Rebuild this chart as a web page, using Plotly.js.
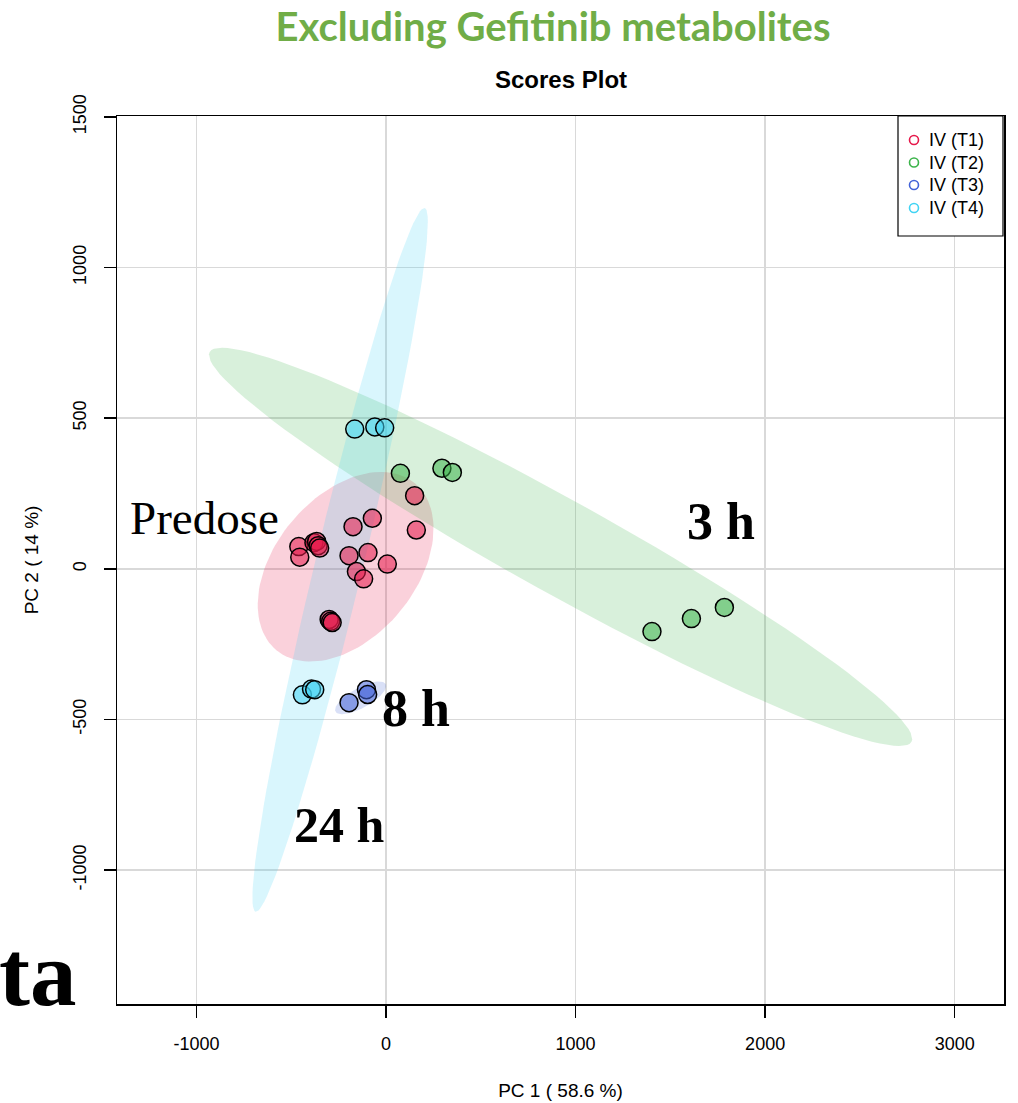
<!DOCTYPE html>
<html><head><meta charset="utf-8">
<script src="https://cdn.plot.ly/plotly-3.0.1.min.js"></script>
<style>html,body{margin:0;padding:0;background:#fff}</style>
</head><body><div id="chart" style="width:1018px;height:1103px"></div>
<script>
// ---- data ----
const groups = ["IV (T1)", "IV (T2)", "IV (T3)", "IV (T4)"];
const groupColors = ["#E6194B", "#3CB44B", "#4363D8", "#42D4F4"];

const t1X = [151, 160, -72, -174, -95, -195, 7, -156, -118, -460, -455, -380, -366, -358, -350, -300, -292, -284];
const t1Y = [243, 129, 168, 140, 54, 44, 16, -9, -33, 74, 39, 87, 91, 77, 69, -168, -174, -178];
const t2X = [76, 295, 350, 1403, 1611, 1785];
const t2Y = [317, 334, 320, -208, -165, -128];
const t3X = [-195, -103, -97];
const t3Y = [-444, -401, -417];
const t4X = [-165, -59, -7, -441, -393, -376];
const t4Y = [464, 471, 468, -418, -399, -401];

// 95% confidence ellipses: centre and two conjugate semi-diameters (data units)
const ellCx = [-213, 921, -134, -242];
const ellCy = [7, 73, -428, 30];
const ellUx = [365, 1851, 132, 446];
const ellUy = [277, -647, 46, 1168];
const ellVx = [286, -120, 26, 123];
const ellVy = [-149, -136, -29, -19];

const xTicks = [-1000, 0, 1000, 2000, 3000];
const yTicks = [-1000, -500, 0, 500, 1000, 1500];

const seriesX = [t1X, t2X, t3X, t4X];
const seriesY = [t1Y, t2Y, t3Y, t4Y];

function rgba(hex, a) {
  const n = parseInt(hex.slice(1), 16);
  return `rgba(${(n >> 16) & 255},${(n >> 8) & 255},${n & 255},${a})`;
}

const traces = [];
// ellipses
for (let g = 0; g < 4; g++) {
  const ex = [], ey = [];
  for (let i = 0; i <= 120; i++) {
    const t = 2 * Math.PI * i / 120;
    ex.push(ellCx[g] + ellUx[g] * Math.cos(t) + ellVx[g] * Math.sin(t));
    ey.push(ellCy[g] + ellUy[g] * Math.cos(t) + ellVy[g] * Math.sin(t));
  }
  traces.push({x: ex, y: ey, type: 'scatter', mode: 'lines', fill: 'toself',
    fillcolor: rgba(groupColors[g], 0.2), line: {width: 0, color: 'rgba(0,0,0,0)'},
    hoverinfo: 'skip', showlegend: false});
}
// points
for (let g = 0; g < 4; g++) {
  traces.push({x: seriesX[g], y: seriesY[g], type: 'scatter', mode: 'markers', name: groups[g],
    marker: {size: 18, color: rgba(groupColors[g], 0.55), line: {color: '#000', width: 1.5}},
    showlegend: false});
}

const L = 117, T = 116, W = 887, H = 888;
const px = v => (v - L) / W;
const py = v => (T + H - v) / H;

// legend box drawn R-style (open circles, tight spacing)
const legLeft = 898, legRight = 1003, legTop = 116, legBottom = 236;
const legRows = [140, 162.5, 185, 208];
const shapes = [{type: 'rect', xref: 'paper', yref: 'paper', x0: px(legLeft), x1: px(legRight),
  y0: py(legBottom), y1: py(legTop), line: {color: '#000', width: 1.2}, fillcolor: '#fff', layer: 'above'}];
const legendText = [];
groups.forEach((g, i) => {
  shapes.push({type: 'circle', xref: 'paper', yref: 'paper', xsizemode: 'pixel', ysizemode: 'pixel',
    xanchor: px(914), yanchor: py(legRows[i]), x0: -4.5, x1: 4.5, y0: -4.5, y1: 4.5,
    line: {color: groupColors[i], width: 1.6}, fillcolor: 'rgba(0,0,0,0)', layer: 'above'});
  legendText.push({text: g, xref: 'paper', yref: 'paper', x: px(927), y: py(legRows[i]),
    xanchor: 'left', yanchor: 'middle', showarrow: false, font: {size: 18, color: '#000'}});
});

const serif = 'Liberation Serif, Times New Roman, serif';
const layout = {
  width: 1018, height: 1103,
  margin: {l: L, r: 1018 - L - W, t: T, b: 1103 - T - H},
  paper_bgcolor: '#fff', plot_bgcolor: '#fff',
  font: {family: 'Liberation Sans, Arial, sans-serif', color: '#000'},
  showlegend: false,
  title: {text: 'Excluding Gefitinib metabolites', xref: 'paper', x: px(553), xanchor: 'center',
    yref: 'container', y: 1 - 27 / 1103, yanchor: 'middle',
    font: {family: 'Lato, Open Sans, sans-serif', size: 40, weight: 'bold', color: '#70AD47'}},
  xaxis: {range: [-1419, 3260], tickvals: xTicks, ticktext: xTicks.map(String),
    showgrid: true, gridcolor: '#d9d9d9', gridwidth: 1.5, zeroline: false,
    showline: true, mirror: true, linecolor: '#000', linewidth: 1.5,
    ticks: 'outside', ticklen: 12, tickwidth: 1.5, tickcolor: '#000',
    tickfont: {size: 18, color: '#000'}, ticklabelstandoff: 11,
    title: {text: 'PC 1 ( 58.6 %)', font: {size: 19}, standoff: 30}},
  yaxis: {range: [-1444, 1503], tickvals: yTicks, ticktext: yTicks.map(String),
    showgrid: true, gridcolor: '#d9d9d9', gridwidth: 1.5, zeroline: false,
    showline: true, mirror: true, linecolor: '#000', linewidth: 1.5,
    ticks: 'outside', ticklen: 12, tickwidth: 1.5, tickcolor: '#000', tickangle: -90,
    tickfont: {size: 18, color: '#000'}, ticklabelstandoff: 10,
    title: {text: 'PC 2 ( 14 %)', font: {size: 19}, standoff: 26}},
  shapes: shapes,
  annotations: legendText.concat([
    {text: 'Scores Plot', xref: 'paper', yref: 'paper', x: px(561), y: py(80), showarrow: false,
      xanchor: 'center', yanchor: 'middle', font: {size: 24, weight: 'bold'}},
    {text: 'Predose', xref: 'paper', yref: 'paper', x: px(204), y: py(518), showarrow: false,
      xanchor: 'center', yanchor: 'middle', font: {family: serif, size: 47}},
    {text: '3 h', xref: 'paper', yref: 'paper', x: px(721), y: py(521), showarrow: false,
      xanchor: 'center', yanchor: 'middle', font: {family: serif, size: 52, weight: 'bold'}},
    {text: '8 h', xref: 'paper', yref: 'paper', x: px(416), y: py(708), showarrow: false,
      xanchor: 'center', yanchor: 'middle', font: {family: serif, size: 52, weight: 'bold'}},
    {text: '24 h', xref: 'paper', yref: 'paper', x: px(339), y: py(825), showarrow: false,
      xanchor: 'center', yanchor: 'middle', font: {family: serif, size: 50, weight: 'bold'}},
    {text: 'ta', xref: 'paper', yref: 'paper', x: px(-3), y: py(973), showarrow: false,
      xanchor: 'left', yanchor: 'middle', font: {family: serif, size: 93, weight: 'bold'}}
  ])
};

Plotly.newPlot('chart', traces, layout, {displayModeBar: false, staticPlot: true});
</script>
</body></html>
